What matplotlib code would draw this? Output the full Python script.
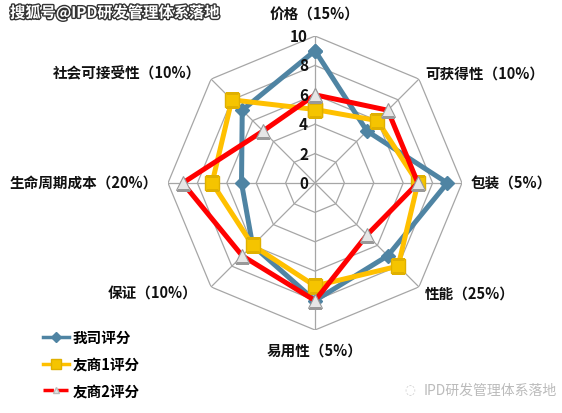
import numpy as np
import matplotlib
matplotlib.use("Agg")
import matplotlib.pyplot as plt
import matplotlib.patheffects as pe
from matplotlib.lines import Line2D

plt.rcParams['font.family'] = ['Noto Sans CJK SC', 'DejaVu Sans']

categories = ['价格（15%）', '可获得性（10%）', '包装（5%）', '性能（25%）',
              '易用性（5%）', '保证（10%）', '生命周期成本（20%）', '社会可接受性（10%）']
series_names = ['我司评分', '友商1评分', '友商2评分']
ours = [9, 5, 9, 7, 8, 6, 5, 7]
comp1 = [5, 6, 7, 8, 7, 6, 7, 8]
comp2 = [6, 7, 7, 5, 8, 7, 9, 5]
r_ticks = [0, 2, 4, 6, 8, 10]

W, H = 562, 414
fig = plt.figure(figsize=(W / 100, H / 100), dpi=100)
cx, cy, R = 315, 184, 147
ax = fig.add_axes([(cx - R) / W, (H - cy - R) / H, 2 * R / W, 2 * R / H], projection='polar')
ax.set_theta_zero_location('N')
ax.set_theta_direction(-1)
ax.set_ylim(0, 10)
ax.grid(False)
ax.spines['polar'].set_visible(False)
ax.set_xticks([])
ax.set_yticks([])
ax.patch.set_alpha(0)

n = len(categories)
theta = np.linspace(0, 2 * np.pi, n, endpoint=False)
theta_c = np.concatenate([theta, theta[:1]])

grid_col = '#a6a6a6'
for r in r_ticks[1:]:
    ax.plot(theta_c, [r] * (n + 1), color=grid_col, lw=0.9, zorder=1)
for t in theta:
    ax.plot([t, t], [0, 10], color=grid_col, lw=0.9, zorder=1)

def closed(v):
    return list(v) + [v[0]]

ax.plot(theta_c, closed(ours), color='#4f84a3', lw=3.6, marker='D', ms=7.5,
        mfc='#4f84a3', mec='#4f84a3', zorder=3)
ax.plot(theta_c, closed(comp1), color='#ffc000', lw=3.6, marker='s', ms=9.5,
        mfc='#f5c400', mec='#e0b000', zorder=4)
ax.plot(theta_c, closed(comp2), color='#ff0000', lw=3.6, marker='^', ms=10,
        mfc='#e6e6e6', mec='#999999', mew=0.8, zorder=5)

for r in r_ticks:
    ax.annotate(str(r), xy=(0, r), xytext=(-7, 0), textcoords='offset pixels',
                ha='right', va='center', fontsize=11, fontweight='bold',
                color='#111111', zorder=6)

label_specs = [
    ((0, 22), 'center', 'center'),
    ((6, 7), 'left', 'center'),
    ((9, 0), 'left', 'center'),
    ((6, -6), 'left', 'center'),
    ((0, -20), 'center', 'center'),
    ((-14, -6), 'right', 'center'),
    ((-10, 0), 'right', 'center'),
    ((-10, 7), 'right', 'center'),
]
for t, lab, (off, ha, va) in zip(theta, categories, label_specs):
    ax.annotate(lab, xy=(t, 10), xytext=off, textcoords='offset pixels',
                ha=ha, va=va, fontsize=10.5, fontweight='bold', color='#111111',
                annotation_clip=False)

handles = [
    Line2D([], [], color='#4f84a3', lw=2.5, marker='D', ms=5, mfc='#4f84a3', mec='#4f84a3'),
    Line2D([], [], color='#ffc000', lw=2.5, marker='s', ms=7, mfc='#f5c400', mec='#e0b000'),
    Line2D([], [], color='#ff0000', lw=2.5, ls=(0, (3, 1.2)), marker='^', ms=5,
           mfc='#e6e6e6', mec='#bbbbbb'),
]
leg = fig.legend(handles, series_names, loc='upper left',
                 bbox_to_anchor=(30 / W, 1 - 317 / H), frameon=False,
                 handlelength=1.75, handletextpad=0.3, labelspacing=0.72,
                 prop={'size': 10.5, 'weight': 'bold'})

fig.text(10 / W, 1 - 14 / H, '搜狐号@IPD研发管理体系落地', ha='left', va='center',
         fontsize=11, fontweight='bold', color='white',
         path_effects=[pe.withStroke(linewidth=2, foreground='#333333')])
fig.text(424 / W, 1 - 391 / H, 'IPD研发管理体系落地', ha='left', va='center',
         fontsize=10, color='#bbbbbb')
fig.text(410 / W, 1 - 391 / H, '◌', ha='center', va='center',
         fontsize=9, color='#cccccc', family=['DejaVu Sans'])

fig.savefig('out.png', dpi=100)
